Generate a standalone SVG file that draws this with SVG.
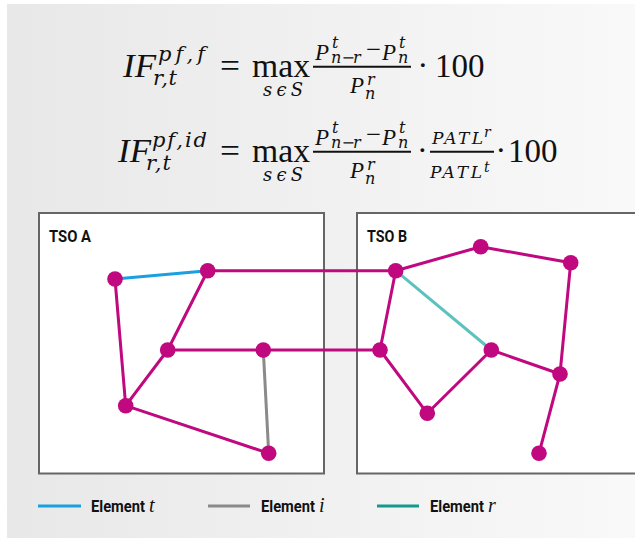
<svg xmlns="http://www.w3.org/2000/svg" width="635" height="551" viewBox="0 0 635 551">
<defs>
<linearGradient id="bg" x1="0" y1="0" x2="1" y2="0">
<stop offset="0" stop-color="#e8e8e8"/>
<stop offset="1" stop-color="#f9f9f9"/>
</linearGradient>
</defs>
<style>
.m{font-family:"Liberation Serif","Times New Roman",serif;fill:#111}
.s{font-family:"DejaVu Serif","Liberation Serif",serif;font-style:italic;fill:#111}
.i{font-style:italic}
.box{fill:#fff;stroke:#666;stroke-width:2}
.lbl{font-family:Roboto,"Liberation Sans",sans-serif;font-weight:700;font-size:16px;fill:#111}
.e{stroke:#c0087f;stroke-width:3;fill:none;stroke-linecap:round}
.n{fill:#c0087f}
.bar{stroke:#111;stroke-width:2}
</style>
<rect x="0" y="0" width="635" height="551" fill="#fff"/>
<rect x="7" y="4" width="628" height="534" fill="url(#bg)"/>

<g id="formula1">
<text class="m i" x="123" y="77" font-size="34" textLength="33" lengthAdjust="spacingAndGlyphs">IF</text>
<text class="s" x="158" y="61" font-size="21" textLength="47">pf,f</text>
<text class="s" x="153" y="85" font-size="21" textLength="24">r,t</text>
<text class="m" x="220" y="77" font-size="34" textLength="20" lengthAdjust="spacingAndGlyphs">=</text>
<text class="m" x="252" y="77" font-size="34" textLength="58" lengthAdjust="spacingAndGlyphs">max</text>
<text class="s" x="263" y="96" font-size="18" textLength="40">sϵS</text>
<text class="m i" x="315" y="60" font-size="23">P</text>
<text class="s" x="332" y="48" font-size="16">t</text>
<text class="s" x="331" y="63" font-size="16">n</text>
<text class="s" x="341.5" y="63" font-size="16">−</text>
<text class="s" x="353" y="63" font-size="16">r</text>
<text class="m" x="366" y="57" font-size="23" textLength="15" lengthAdjust="spacingAndGlyphs">−</text>
<text class="m i" x="382" y="60" font-size="23">P</text>
<text class="s" x="399" y="48" font-size="16">t</text>
<text class="s" x="398" y="63" font-size="16">n</text>
<line class="bar" x1="313" y1="66.7" x2="411" y2="66.7"/>
<text class="m i" x="350" y="93" font-size="23">P</text>
<text class="s" x="367" y="85" font-size="16">r</text>
<text class="s" x="365" y="99" font-size="16">n</text>
<text class="m" x="417.5" y="76" font-size="32">·</text>
<text class="m" x="435" y="77" font-size="33">100</text>
</g>

<g id="formula2">
<text class="m i" x="118" y="162" font-size="34" textLength="33" lengthAdjust="spacingAndGlyphs">IF</text>
<text class="s" x="152" y="146.5" font-size="21" textLength="55">pf,id</text>
<text class="s" x="146" y="170" font-size="21" textLength="25">r,t</text>
<text class="m" x="220" y="162" font-size="34" textLength="20" lengthAdjust="spacingAndGlyphs">=</text>
<text class="m" x="252" y="162" font-size="34" textLength="58" lengthAdjust="spacingAndGlyphs">max</text>
<text class="s" x="263" y="181" font-size="18" textLength="40">sϵS</text>
<text class="m i" x="315" y="145" font-size="23">P</text>
<text class="s" x="332" y="133" font-size="16">t</text>
<text class="s" x="331" y="148" font-size="16">n</text>
<text class="s" x="341.5" y="148" font-size="16">−</text>
<text class="s" x="353" y="148" font-size="16">r</text>
<text class="m" x="366" y="142" font-size="23" textLength="15" lengthAdjust="spacingAndGlyphs">−</text>
<text class="m i" x="382" y="145" font-size="23">P</text>
<text class="s" x="399" y="133" font-size="16">t</text>
<text class="s" x="398" y="148" font-size="16">n</text>
<line class="bar" x1="313" y1="151.7" x2="411" y2="151.7"/>
<text class="m i" x="350" y="178" font-size="23">P</text>
<text class="s" x="367" y="170" font-size="16">r</text>
<text class="s" x="365" y="184" font-size="16">n</text>
<text class="m" x="417" y="161" font-size="32">·</text>
<text class="s" x="432" y="144.3" font-size="17" textLength="51">PATL</text>
<text class="s" x="484" y="137" font-size="14">r</text>
<line class="bar" x1="430" y1="151.7" x2="494" y2="151.7"/>
<text class="s" x="430" y="178.3" font-size="17" textLength="52">PATL</text>
<text class="s" x="484" y="172" font-size="14">t</text>
<text class="m" x="495.5" y="161" font-size="32">·</text>
<text class="m" x="508" y="162" font-size="33">100</text>
</g>

<g id="tsoA">
<rect class="box" x="39" y="213" width="285" height="260.5"/>
<text class="lbl" x="49" y="242" textLength="42" lengthAdjust="spacingAndGlyphs">TSO A</text>
</g>
<g id="tsoB">
<rect class="box" x="357" y="213" width="290" height="260.5"/>
<text class="lbl" x="367" y="242" textLength="40" lengthAdjust="spacingAndGlyphs">TSO B</text>
</g>

<g id="connectors">
<line x1="115" y1="279" x2="207.7" y2="270.7" stroke="#1a9fe0" stroke-width="3"/>
<line class="e" x1="207.7" y1="270.7" x2="395.7" y2="270.7"/>
<line class="e" x1="207.7" y1="270.7" x2="167.7" y2="350"/>
<line class="e" x1="167.7" y1="350" x2="125.7" y2="405.7"/>
<line class="e" x1="115" y1="279" x2="125.7" y2="405.7"/>
<line class="e" x1="167.7" y1="350" x2="380" y2="350"/>
<line x1="263.3" y1="350" x2="268.7" y2="453.3" stroke="#8a8a8a" stroke-width="3"/>
<line class="e" x1="125.7" y1="405.7" x2="268.7" y2="453.3"/>
<line class="e" x1="395.7" y1="270.7" x2="480.7" y2="246.7"/>
<line class="e" x1="480.7" y1="246.7" x2="570.7" y2="262.7"/>
<line class="e" x1="570.7" y1="262.7" x2="560" y2="374"/>
<line class="e" x1="395.7" y1="270.7" x2="380" y2="350"/>
<line x1="395.7" y1="270.7" x2="491.3" y2="350" stroke="#5cc2bd" stroke-width="3"/>
<line class="e" x1="380" y1="350" x2="427.3" y2="413.3"/>
<line class="e" x1="427.3" y1="413.3" x2="491.3" y2="350"/>
<line class="e" x1="491.3" y1="350" x2="560" y2="374"/>
<line class="e" x1="560" y1="374" x2="539" y2="453.3"/>
</g>

<g id="a1"><circle class="n" cx="115" cy="279" r="7.8"/></g>
<g id="a2"><circle class="n" cx="207.7" cy="270.7" r="7.8"/></g>
<g id="a3"><circle class="n" cx="167.7" cy="350" r="7.8"/></g>
<g id="a4"><circle class="n" cx="263.3" cy="350" r="7.8"/></g>
<g id="a5"><circle class="n" cx="125.7" cy="405.7" r="7.8"/></g>
<g id="a6"><circle class="n" cx="268.7" cy="453.3" r="7.8"/></g>
<g id="b1"><circle class="n" cx="395.7" cy="270.7" r="7.8"/></g>
<g id="b2"><circle class="n" cx="480.7" cy="246.7" r="7.8"/></g>
<g id="b3"><circle class="n" cx="570.7" cy="262.7" r="7.8"/></g>
<g id="b4"><circle class="n" cx="380" cy="350" r="7.8"/></g>
<g id="b5"><circle class="n" cx="491.3" cy="350" r="7.8"/></g>
<g id="b6"><circle class="n" cx="560" cy="374" r="7.8"/></g>
<g id="b7"><circle class="n" cx="427.3" cy="413.3" r="7.8"/></g>
<g id="b8"><circle class="n" cx="539" cy="453.3" r="7.8"/></g>

<g id="legend">
<line x1="38" y1="506" x2="81" y2="506" stroke="#1a9fe0" stroke-width="3"/>
<text class="lbl" x="91" y="512.3" textLength="54" lengthAdjust="spacingAndGlyphs">Element</text>
<text class="m i" x="149" y="512.3" font-size="20">t</text>
<line x1="208" y1="506" x2="250" y2="506" stroke="#8a8a8a" stroke-width="3"/>
<text class="lbl" x="261" y="512.3" textLength="54" lengthAdjust="spacingAndGlyphs">Element</text>
<text class="m i" x="319" y="512.3" font-size="20">i</text>
<line x1="377" y1="506" x2="419" y2="506" stroke="#14998c" stroke-width="3"/>
<text class="lbl" x="430" y="512.3" textLength="54" lengthAdjust="spacingAndGlyphs">Element</text>
<text class="m i" x="488" y="512.3" font-size="20">r</text>
</g>
</svg>
